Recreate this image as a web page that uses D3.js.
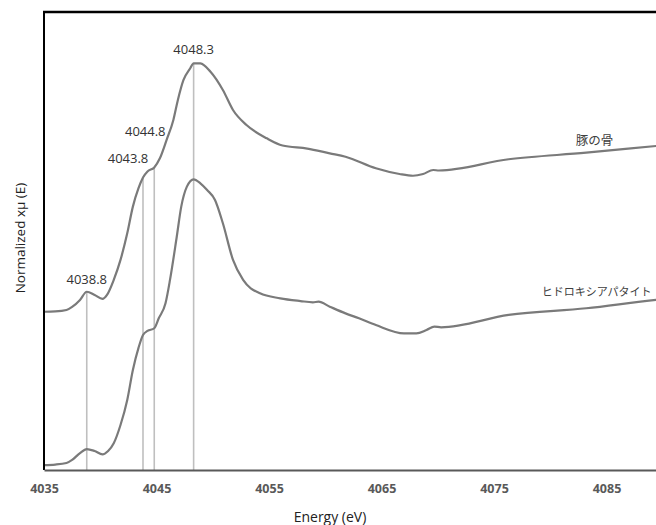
<!DOCTYPE html>
<html>
<head>
<meta charset="utf-8">
<script src="https://cdn.jsdelivr.net/npm/d3@7"></script>
<style>
  body { margin: 0; background: #fff; }
  svg { display: block; }
</style>
</head>
<body>
<div id="chart"></div>
<script>
// energy (eV) and normalized absorption
const boneEnergy = [4035.0, 4036.0, 4037.0, 4037.5, 4038.2, 4038.8, 4039.5, 4040.2, 4040.6, 4041.2,
    4041.8, 4042.4, 4042.9, 4043.4, 4043.8, 4044.2, 4044.8, 4045.3, 4045.9, 4046.5,
    4046.9, 4047.4, 4048.0, 4048.3, 4048.9, 4049.8, 4050.9, 4051.8, 4053.0, 4054.8,
    4056.2, 4058.4, 4060.4, 4061.8, 4064.5, 4066.6, 4067.8, 4068.7, 4069.6, 4070.1,
    4076.3, 4083.2, 4089.4, 4090.0];
const boneValue = [0.989, 0.991, 1.000, 1.019, 1.063, 1.114, 1.094, 1.069, 1.094, 1.188,
    1.313, 1.479, 1.646, 1.761, 1.828, 1.866, 1.891, 1.948, 2.063, 2.188,
    2.313, 2.438, 2.511, 2.542, 2.541, 2.489, 2.375, 2.250, 2.156, 2.073,
    2.028, 2.009, 1.979, 1.958, 1.886, 1.850, 1.839, 1.850, 1.875, 1.872,
    1.942, 1.983, 2.025, 2.029];

const hapEnergy = [4035.0, 4036.0, 4037.0, 4037.5, 4038.2, 4038.8, 4039.5, 4040.2, 4040.7, 4041.2,
    4041.8, 4042.4, 4042.9, 4043.4, 4043.8, 4044.2, 4044.8, 4045.2, 4045.8, 4046.2,
    4046.8, 4047.2, 4047.7, 4048.3, 4048.9, 4049.5, 4050.2, 4050.9, 4051.8, 4052.7,
    4054.2, 4056.0, 4057.8, 4058.9, 4059.4, 4060.4, 4061.8, 4063.0, 4064.5, 4067.0,
    4068.1, 4069.0, 4069.7, 4070.3, 4076.3, 4083.2, 4089.4, 4090.0];
const hapValue = [0.031, 0.034, 0.044, 0.063, 0.106, 0.131, 0.119, 0.098, 0.119, 0.167,
    0.281, 0.438, 0.625, 0.763, 0.844, 0.869, 0.886, 0.948, 1.042, 1.188,
    1.458, 1.646, 1.771, 1.817, 1.792, 1.750, 1.688, 1.542, 1.313, 1.188,
    1.104, 1.073, 1.056, 1.048, 1.052, 1.021, 0.979, 0.948, 0.906, 0.854,
    0.854, 0.875, 0.896, 0.892, 0.969, 1.011, 1.063, 1.067];

const seriesNames = ["豚の骨", "ヒドロキシアパタイト"];
const peakEnergy = [4038.8, 4043.8, 4044.8, 4048.3];
const peakLabels = ["4038.8", "4043.8", "4044.8", "4048.3"];
const xTicks = [4035, 4045, 4055, 4065, 4075, 4085];

const width = 656, height = 525;
const plotLeft = 44, plotTop = 12, plotBottom = 470;

const svg = d3.select("#chart").append("svg")
    .attr("width", width)
    .attr("height", height);

const x = d3.scaleLinear().domain([4035, 4090]).range([plotLeft, plotLeft + 55 * 11.25]);
const y = d3.scaleLinear().domain([0, 2.8625]).range([plotBottom, plotTop]);

const bone = boneEnergy.map((e, i) => [e, boneValue[i]]);
const hap = hapEnergy.map((e, i) => [e, hapValue[i]]);

// peak marker lines, from the bone curve down to the axis
peakEnergy.forEach(e => {
    const v = boneValue[boneEnergy.indexOf(e)];
    svg.append("line")
        .attr("x1", x(e)).attr("x2", x(e))
        .attr("y1", y(v)).attr("y2", y(0))
        .attr("stroke", "#bfbfbf")
        .attr("stroke-width", 1.6);
});

const line = d3.line()
    .x(d => x(d[0]))
    .y(d => y(d[1]))
    .curve(d3.curveMonotoneX);

[bone, hap].forEach(s => {
    svg.append("path")
        .datum(s)
        .attr("d", line)
        .attr("fill", "none")
        .attr("stroke", "#7a7a7a")
        .attr("stroke-width", 2.2);
});

// frame
svg.append("line")
    .attr("x1", plotLeft - 1).attr("x2", width)
    .attr("y1", plotTop).attr("y2", plotTop)
    .attr("stroke", "#000").attr("stroke-width", 2.5);
svg.append("line")
    .attr("x1", plotLeft).attr("x2", plotLeft)
    .attr("y1", plotTop).attr("y2", plotBottom)
    .attr("stroke", "#000").attr("stroke-width", 2);

const xAxis = svg.append("g")
    .attr("transform", `translate(0,${plotBottom})`)
    .call(d3.axisBottom(x).tickValues(xTicks).tickSize(0).tickPadding(14).tickFormat(d3.format("d")));
xAxis.select(".domain").attr("stroke", "#595959").attr("stroke-width", 2.2);
xAxis.selectAll("text")
    .attr("fill", "#595959")
    .style("font-family", "'Open Sans', sans-serif")
    .style("font-size", "12.5px")
    .style("font-weight", "bold");

// peak labels
const labelPos = [[0, -8, "middle"], [-15, -15, "middle"], [-9, -31, "middle"], [0, -9, "middle"]];
peakEnergy.forEach((e, i) => {
    const v = boneValue[boneEnergy.indexOf(e)];
    svg.append("text")
        .attr("x", x(e) + labelPos[i][0])
        .attr("y", y(v) + labelPos[i][1])
        .attr("text-anchor", labelPos[i][2])
        .attr("fill", "#333")
        .style("font-family", "'Open Sans', sans-serif")
        .style("font-size", "13px")
        .text(peakLabels[i]);
});

// series labels
const nameAt = [4085.6, 4089.0];
const nameVal = [2.03, 1.09];
seriesNames.forEach((n, i) => {
    svg.append("text")
        .attr("x", x(nameAt[i]))
        .attr("y", y(nameVal[i]))
        .attr("text-anchor", "end")
        .attr("fill", "#404040")
        .style("font-family", "'Noto Sans CJK JP', sans-serif")
        .style("font-size", i == 0 ? "12.5px" : "11px")
        .text(n);
});

svg.append("text")
    .attr("x", 330)
    .attr("y", 522)
    .attr("text-anchor", "middle")
    .attr("fill", "#222")
    .style("font-family", "'Open Sans', sans-serif")
    .style("font-size", "14px")
    .text("Energy (eV)");

svg.append("text")
    .attr("transform", `translate(25,238) rotate(-90)`)
    .attr("text-anchor", "middle")
    .attr("fill", "#222")
    .style("font-family", "'Open Sans', sans-serif")
    .style("font-size", "13.5px")
    .text("Normalized xμ (E)");
</script>
</body>
</html>
